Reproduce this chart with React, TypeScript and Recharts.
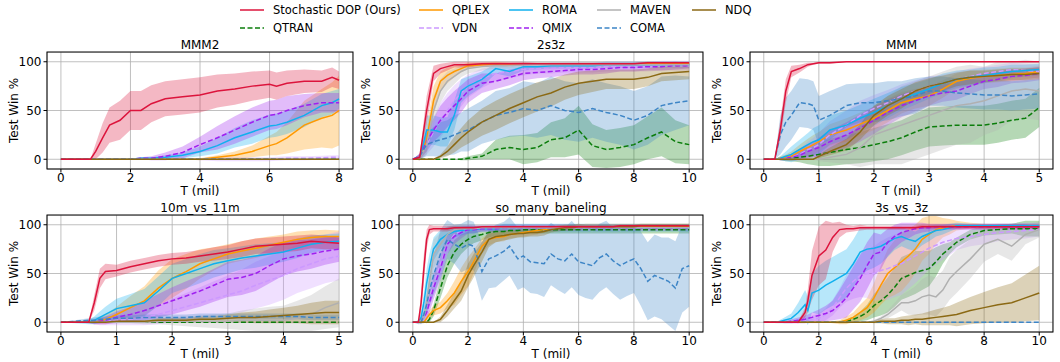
import React from 'react';
import { ComposedChart, Line, Area, XAxis, YAxis, CartesianGrid } from 'recharts';

const FONT = '"DejaVu Sans", Verdana, sans-serif';

// ---- MMM2 (0..8 mil) ----
const MMM2_X = [0, 0.5, 0.85, 1, 1.2, 1.4, 1.7, 2, 2.3, 2.6, 3, 3.5, 4, 4.5, 5, 5.5, 6, 6.2, 6.5, 7, 7.5, 7.8, 8];
const MMM2_DOP = [0, 0, 0, 8, 22, 35, 40, 50, 50, 57, 62, 64, 66, 70, 72, 75, 77, 75, 78, 80, 80, 84, 81];
const MMM2_DOP_SD = [0, 0, 0, 8, 15, 18, 20, 20, 20, 19, 18, 18, 18, 17, 16, 15, 14, 14, 13, 12, 11, 10, 9];
const MMM2_ROMA = [0, 0, 0, 0, 0, 0, 0, 0, 1, 1, 2, 4, 8, 14, 22, 28, 34, 35, 38, 45, 55, 58, 62];
const MMM2_ROMA_SD = [0, 0, 0, 0, 0, 0, 0, 0, 1, 1, 2, 3, 5, 8, 10, 12, 12, 12, 12, 12, 12, 12, 10];
const MMM2_QMIX = [0, 0, 0, 0, 0, 0, 0, 0, 1, 1, 3, 7, 15, 22, 30, 38, 45, 46, 50, 55, 58, 58, 58];
const MMM2_QMIX_SD = [0, 0, 0, 0, 0, 0, 0, 0, 1, 2, 4, 6, 8, 12, 14, 15, 15, 15, 15, 12, 10, 10, 10];
const MMM2_QPLEX = [0, 0, 0, 0, 0, 0, 0, 0, 0, 0, 0, 0, 0, 2, 4, 8, 14, 16, 22, 35, 42, 45, 50];
const MMM2_QPLEX_SD = [0, 0, 0, 0, 0, 0, 0, 0, 0, 0, 0, 0, 1, 2, 4, 6, 10, 12, 16, 25, 30, 34, 36];
const MMM2_VDN = [0, 0, 0, 0, 0, 0, 0, 0, 0, 0, 0, 0, 0, 0, 0, 0, 0, 0.5, 1, 1, 1.5, 2, 2];
const MMM2_VDN_SD = [0, 0, 0, 0, 0, 0, 0, 0, 0, 0, 0, 0, 1, 2, 2, 2, 2, 2, 2, 2, 2, 2, 2];
const MMM2_FLAT = [0, 0, 0, 0, 0, 0, 0, 0, 0, 0, 0, 0, 0, 0, 0, 0, 0, 0, 0, 0, 0, 0, 0];

// ---- 2s3z (0..10 mil) ----
const S2Z3_X = [0, 0.25, 0.5, 0.75, 1, 1.25, 1.5, 1.75, 2, 2.5, 3, 3.5, 4, 4.5, 5, 5.5, 6, 6.5, 7, 7.5, 8, 8.5, 9, 9.5, 10];
const S2Z3_DOP = [0, 2, 50, 88, 93, 95, 97, 97, 97, 98, 98, 98, 98, 98, 98, 98, 98, 98, 98, 98, 98, 99, 99, 99, 99];
const S2Z3_DOP_SD = [0, 3, 15, 8, 5, 4, 3, 3, 3, 2, 2, 2, 2, 1, 1, 1, 1, 1, 1, 1, 1, 1, 1, 1, 1];
const S2Z3_QPLEX = [0, 1, 20, 60, 80, 86, 90, 93, 96, 97, 98, 98, 98, 98, 98, 98, 98, 98, 98, 98, 98, 98, 98, 98, 98];
const S2Z3_QPLEX_SD = [0, 2, 12, 15, 10, 8, 6, 4, 3, 2, 2, 1, 1, 1, 1, 1, 1, 1, 1, 1, 1, 1, 1, 1, 1];
const S2Z3_MAVEN = [0, 1, 15, 50, 70, 80, 85, 90, 93, 95, 96, 96, 97, 97, 97, 97, 97, 97, 97, 97, 97, 97, 97, 97, 97];
const S2Z3_MAVEN_SD = [0, 2, 10, 15, 12, 10, 8, 6, 5, 4, 3, 3, 3, 3, 3, 3, 3, 3, 3, 3, 3, 3, 3, 3, 3];
const S2Z3_ROMA = [0, 0, 30, 30, 28, 28, 45, 70, 75, 82, 93, 90, 95, 95, 96, 96, 96, 96, 97, 97, 97, 97, 97, 97, 97];
const S2Z3_ROMA_SD = [0, 0, 15, 15, 15, 15, 15, 12, 10, 8, 5, 5, 4, 3, 3, 3, 3, 3, 3, 3, 3, 3, 3, 3, 3];
const S2Z3_QMIX = [0, 3, 18, 30, 40, 48, 55, 62, 70, 78, 80, 84, 88, 89, 90, 91, 92, 92, 93, 94, 94, 95, 95, 96, 96];
const S2Z3_QMIX_SD = [0, 3, 10, 12, 15, 15, 15, 14, 12, 10, 8, 8, 7, 6, 6, 5, 5, 5, 5, 4, 4, 4, 4, 4, 3];
const S2Z3_VDN = [0, 2, 15, 28, 40, 50, 60, 68, 75, 83, 88, 90, 92, 93, 93, 94, 94, 94, 95, 95, 95, 95, 96, 96, 96];
const S2Z3_VDN_SD = [0, 3, 10, 15, 18, 18, 16, 14, 12, 10, 8, 7, 6, 5, 5, 5, 5, 5, 5, 5, 5, 5, 5, 5, 5];
const S2Z3_NDQ = [0, 0, 0, 0, 3, 8, 15, 22, 28, 38, 45, 52, 58, 64, 68, 74, 78, 80, 82, 82, 82, 84, 88, 89, 90];
const S2Z3_NDQ_SD = [0, 0, 0, 0, 2, 5, 8, 10, 12, 14, 15, 15, 15, 15, 14, 13, 12, 11, 10, 10, 10, 9, 8, 8, 8];
const S2Z3_COMA = [0, 3, 15, 18, 20, 22, 25, 28, 30, 38, 45, 48, 52, 50, 55, 50, 48, 52, 48, 45, 40, 45, 55, 58, 60];
const S2Z3_COMA_SD = [0, 3, 12, 15, 18, 18, 20, 20, 22, 22, 25, 25, 28, 28, 30, 30, 30, 30, 30, 30, 30, 30, 30, 28, 25];
const S2Z3_QTRAN = [0, 0, 0, 0, 0, 0, 0, 0, 1, 3, 10, 12, 10, 12, 20, 22, 30, 14, 10, 12, 15, 22, 28, 18, 15];
const S2Z3_QTRAN_SD = [0, 0, 0, 0, 0, 0, 0, 1, 2, 3, 10, 12, 15, 15, 18, 20, 25, 22, 20, 20, 20, 22, 25, 22, 20];

// ---- MMM (0..5 mil) ----
const MMM_X = [0, 0.2, 0.3, 0.4, 0.5, 0.65, 0.8, 0.9, 1, 1.2, 1.5, 1.75, 2, 2.25, 2.5, 2.75, 3, 3.25, 3.5, 3.75, 4, 4.25, 4.5, 4.75, 5];
const MMM_DOP = [0, 0, 30, 70, 90, 93, 97, 98, 99, 99, 100, 100, 100, 100, 100, 100, 100, 100, 100, 100, 100, 100, 100, 100, 100];
const MMM_DOP_SD = [0, 0, 10, 12, 6, 4, 2, 1, 1, 1, 0, 0, 0, 0, 0, 0, 0, 0, 0, 0, 0, 0, 0, 0, 0];
const MMM_COMA = [0, 0, 25, 38, 45, 58, 57, 55, 40, 45, 55, 58, 58, 60, 62, 65, 70, 70, 68, 67, 66, 66, 65, 66, 67];
const MMM_COMA_SD = [0, 0, 20, 25, 25, 25, 25, 25, 25, 25, 22, 20, 20, 20, 18, 18, 15, 15, 15, 15, 15, 15, 15, 15, 15];
const MMM_ROMA = [0, 0, 1, 3, 5, 10, 15, 18, 20, 30, 35, 42, 48, 55, 62, 67, 72, 78, 82, 84, 86, 88, 90, 91, 92];
const MMM_ROMA_SD = [0, 0, 2, 5, 8, 10, 12, 14, 15, 15, 15, 14, 14, 13, 12, 11, 10, 10, 9, 8, 8, 7, 7, 6, 6];
const MMM_QPLEX = [0, 0, 1, 2, 3, 8, 12, 15, 18, 25, 30, 36, 42, 50, 58, 62, 65, 72, 80, 83, 85, 86, 87, 88, 90];
const MMM_QPLEX_SD = [0, 0, 2, 3, 5, 7, 9, 10, 10, 11, 12, 12, 12, 12, 11, 10, 10, 9, 8, 8, 7, 7, 7, 6, 6];
const MMM_VDN = [0, 0, 0, 1, 2, 5, 10, 12, 15, 25, 35, 45, 52, 58, 65, 70, 75, 78, 82, 85, 88, 90, 92, 91, 90];
const MMM_VDN_SD = [0, 0, 1, 2, 3, 6, 8, 10, 12, 14, 15, 15, 14, 13, 12, 11, 10, 9, 8, 8, 7, 7, 7, 7, 7];
const MMM_QMIX = [0, 0, 0, 1, 2, 4, 8, 10, 12, 18, 25, 32, 40, 48, 55, 60, 65, 68, 70, 75, 80, 82, 85, 86, 88];
const MMM_QMIX_SD = [0, 0, 1, 2, 3, 5, 7, 8, 10, 12, 13, 14, 14, 13, 12, 11, 10, 9, 9, 8, 8, 8, 7, 7, 7];
const MMM_NDQ = [0, 0, 0, 0, 0, 0, 0, 0, 3, 8, 15, 28, 45, 55, 62, 70, 75, 78, 82, 84, 85, 86, 87, 87, 88];
const MMM_NDQ_SD = [0, 0, 0, 0, 0, 0, 0, 0, 2, 4, 6, 8, 10, 10, 10, 9, 8, 8, 7, 7, 6, 6, 6, 6, 6];
const MMM_MAVEN = [0, 0, 0, 0, 0, 0, 0, 0, 0, 2, 5, 12, 25, 30, 35, 40, 45, 50, 55, 57, 60, 65, 70, 72, 70];
const MMM_MAVEN_SD = [0, 0, 0, 0, 0, 0, 0, 0, 2, 5, 10, 20, 30, 35, 40, 40, 40, 40, 40, 40, 35, 35, 30, 30, 30];
const MMM_QTRAN = [0, 0, 0, 0, 1, 2, 3, 4, 5, 7, 10, 12, 15, 18, 22, 28, 33, 34, 35, 35, 35, 37, 40, 42, 53];
const MMM_QTRAN_SD = [0, 0, 1, 2, 3, 5, 8, 10, 12, 14, 15, 16, 17, 18, 18, 19, 20, 20, 20, 20, 20, 20, 20, 20, 20];

// ---- 10m_vs_11m (0..5 mil) ----
const M10_X = [0, 0.25, 0.5, 0.6, 0.7, 0.8, 1, 1.25, 1.5, 1.75, 2, 2.25, 2.5, 2.75, 3, 3.25, 3.5, 3.75, 4, 4.25, 4.5, 4.75, 5];
const M10_DOP = [0, 0, 0, 20, 45, 52, 53, 57, 60, 63, 65, 66, 68, 70, 72, 75, 78, 79, 80, 81, 83, 82, 81];
const M10_DOP_SD = [0, 0, 0, 8, 10, 8, 6, 6, 6, 6, 6, 6, 6, 7, 7, 8, 8, 8, 8, 8, 7, 7, 6];
const M10_QPLEX = [0, 0, 0, 0, 1, 3, 8, 15, 22, 35, 45, 52, 60, 65, 70, 73, 76, 79, 82, 85, 87, 88, 88];
const M10_QPLEX_SD = [0, 0, 1, 2, 3, 5, 8, 12, 15, 18, 20, 18, 15, 12, 10, 10, 10, 9, 8, 8, 7, 7, 6];
const M10_ROMA = [0, 0, 0, 2, 5, 8, 14, 17, 20, 32, 45, 50, 55, 60, 63, 66, 68, 70, 72, 76, 80, 82, 83];
const M10_ROMA_SD = [0, 1, 2, 4, 6, 8, 10, 12, 14, 15, 15, 15, 15, 14, 13, 12, 12, 11, 10, 10, 9, 8, 8];
const M10_QMIX = [0, 0, 0, 0, 1, 2, 5, 8, 12, 17, 22, 27, 32, 38, 44, 46, 50, 58, 65, 68, 70, 73, 75];
const M10_QMIX_SD = [0, 0, 1, 2, 3, 4, 6, 8, 10, 12, 14, 15, 16, 17, 18, 18, 18, 18, 17, 16, 15, 14, 13];
const M10_VDN = [0, 0, 0, 0, 0, 1, 2, 3, 5, 8, 12, 16, 20, 24, 28, 32, 38, 43, 48, 55, 60, 65, 68];
const M10_VDN_SD = [0, 0, 1, 2, 3, 4, 5, 6, 8, 10, 12, 14, 16, 18, 20, 22, 24, 25, 25, 25, 25, 25, 25];
const M10_COMA = [0, 1, 2, 2, 3, 3, 4, 4, 5, 5, 5, 5, 6, 6, 6, 6, 6, 6, 6, 6, 5, 5, 5];
const M10_COMA_SD = [0, 1, 2, 3, 3, 3, 3, 3, 3, 3, 3, 3, 3, 3, 3, 3, 3, 3, 3, 3, 3, 3, 3];
const M10_NDQ = [0, 0, 0, 0, 0, 0, 1, 1, 1, 2, 2, 2, 3, 3, 4, 5, 5, 6, 7, 8, 9, 10, 10];
const M10_NDQ_SD = [0, 0, 0, 0, 0, 0, 1, 1, 1, 2, 2, 2, 3, 3, 4, 5, 6, 7, 8, 9, 11, 12, 12];
const M10_MAVEN = [0, 0, 0, 0, 0, 0, 0, 0, 0, 1, 1, 1, 1, 1, 1, 2, 2, 2, 2, 4, 8, 15, 20];
const M10_MAVEN_SD = [0, 0, 0, 0, 0, 0, 1, 1, 2, 3, 4, 5, 6, 7, 8, 10, 12, 14, 15, 18, 20, 22, 25];
const M10_FLAT = [0, 0, 0, 0, 0, 0, 0, 0, 0, 0, 0, 0, 0, 0, 0, 0, 0, 0, 0, 0, 0, 0, 0];

// ---- so_many_baneling (0..10 mil) ----
const BANE_X = [0, 0.2, 0.3, 0.4, 0.5, 0.6, 0.75, 1, 1.25, 1.5, 1.75, 2, 2.2, 2.5, 2.75, 3, 3.3, 3.5, 3.8, 4, 4.25, 4.5, 4.75, 5, 5.25, 5.5, 5.75, 6, 6.25, 6.5, 6.75, 7, 7.25, 7.5, 7.75, 8, 8.25, 8.5, 8.75, 9, 9.25, 9.5, 9.75, 10];
const BANE_DOP = [0, 0, 20, 55, 85, 95, 96, 96, 96, 97, 97, 97, 97, 98, 98, 98, 98, 98, 98, 98, 98, 98, 98, 98, 98, 98, 98, 98, 98, 98, 98, 98, 98, 99, 99, 99, 99, 99, 99, 99, 99, 99, 99, 99];
const BANE_DOP_SD = [0, 0, 10, 15, 10, 5, 3, 3, 3, 2, 2, 2, 2, 1, 1, 1, 1, 1, 1, 1, 1, 1, 1, 1, 1, 1, 1, 1, 1, 1, 1, 1, 1, 1, 1, 1, 1, 1, 1, 1, 1, 1, 1, 1];
const BANE_ROMA = [0, 0, 5, 20, 40, 55, 75, 85, 90, 93, 94, 95, 95, 96, 96, 96, 97, 97, 97, 97, 97, 97, 97, 97, 97, 97, 97, 97, 97, 97, 97, 97, 97, 97, 97, 97, 97, 97, 97, 97, 97, 97, 97, 97];
const BANE_ROMA_SD = [0, 2, 5, 10, 15, 15, 12, 10, 8, 6, 5, 4, 4, 3, 3, 3, 4, 4, 4, 4, 4, 4, 4, 4, 4, 4, 4, 4, 4, 4, 4, 4, 4, 4, 4, 4, 4, 4, 4, 4, 4, 4, 4, 4];
const BANE_QMIX = [0, 0, 2, 5, 10, 20, 35, 55, 80, 88, 92, 95, 95, 96, 96, 96, 97, 97, 97, 97, 97, 97, 97, 97, 97, 97, 97, 97, 97, 97, 97, 97, 97, 97, 97, 97, 97, 97, 97, 97, 97, 97, 97, 97];
const BANE_QMIX_SD = [0, 1, 3, 5, 8, 10, 12, 12, 10, 8, 6, 4, 4, 3, 3, 3, 3, 3, 3, 3, 3, 3, 3, 3, 3, 3, 3, 3, 3, 3, 3, 3, 3, 3, 3, 3, 3, 3, 3, 3, 3, 3, 3, 3];
const BANE_VDN = [0, 0, 2, 5, 10, 25, 40, 60, 80, 90, 94, 96, 96, 96, 97, 97, 97, 97, 97, 97, 97, 97, 97, 97, 97, 97, 97, 97, 97, 97, 97, 97, 97, 97, 97, 97, 97, 97, 97, 97, 97, 97, 97, 97];
const BANE_VDN_SD = [0, 1, 3, 5, 8, 10, 12, 12, 10, 8, 5, 4, 3, 3, 3, 3, 3, 3, 3, 3, 3, 3, 3, 3, 3, 3, 3, 3, 3, 3, 3, 3, 3, 3, 3, 3, 3, 3, 3, 3, 3, 3, 3, 3];
const BANE_MAVEN = [0, 0, 2, 5, 20, 40, 70, 80, 90, 95, 96, 96, 96, 97, 97, 97, 97, 97, 97, 97, 97, 97, 97, 97, 97, 97, 97, 97, 97, 97, 97, 97, 97, 97, 97, 97, 97, 97, 97, 97, 97, 97, 97, 97];
const BANE_MAVEN_SD = [0, 2, 4, 6, 10, 15, 15, 12, 8, 5, 4, 3, 3, 3, 3, 3, 3, 3, 3, 3, 3, 3, 3, 3, 3, 3, 3, 3, 3, 3, 3, 3, 3, 3, 3, 3, 3, 3, 3, 3, 3, 3, 3, 3];
const BANE_QTRAN = [0, 0, 0, 0, 0, 3, 12, 35, 58, 72, 80, 85, 88, 90, 92, 93, 93, 94, 94, 95, 95, 95, 95, 95, 95, 95, 95, 95, 95, 95, 95, 95, 95, 95, 95, 95, 95, 95, 95, 95, 95, 95, 95, 95];
const BANE_QTRAN_SD = [0, 0, 0, 0, 1, 3, 6, 10, 12, 12, 10, 8, 7, 6, 5, 4, 4, 4, 4, 4, 4, 4, 4, 4, 4, 4, 4, 4, 4, 4, 4, 4, 4, 4, 4, 4, 4, 4, 4, 4, 4, 4, 4, 4];
const BANE_QPLEX = [0, 0, 0, 0, 4, 8, 12, 15, 22, 30, 42, 52, 62, 78, 85, 87, 88, 90, 91, 92, 93, 94, 95, 96, 97, 97, 97, 97, 98, 98, 98, 98, 98, 98, 98, 98, 98, 98, 98, 98, 98, 98, 98, 98];
const BANE_QPLEX_SD = [0, 0, 0, 1, 3, 4, 5, 6, 8, 12, 14, 15, 12, 8, 6, 5, 5, 4, 4, 4, 4, 4, 3, 3, 3, 3, 3, 3, 3, 3, 3, 3, 3, 3, 3, 3, 3, 3, 3, 3, 3, 3, 3, 3];
const BANE_NDQ = [0, 0, 0, 0, 0, 0, 0, 3, 12, 22, 32, 48, 58, 72, 85, 88, 89, 90, 91, 91, 92, 92, 93, 95, 96, 97, 97, 98, 98, 98, 98, 98, 98, 98, 98, 98, 99, 99, 99, 99, 99, 99, 99, 99];
const BANE_NDQ_SD = [0, 0, 0, 0, 0, 0, 0, 3, 6, 8, 10, 12, 12, 10, 8, 6, 5, 5, 4, 4, 4, 4, 4, 3, 3, 3, 3, 3, 2, 2, 2, 2, 2, 2, 2, 2, 2, 2, 2, 2, 2, 2, 2, 2];
const BANE_COMA = [0, 0, 0, 8, 18, 32, 48, 70, 85, 80, 76, 80, 78, 52, 65, 68, 73, 78, 65, 68, 62, 61, 60, 70, 65, 63, 70, 62, 60, 58, 66, 70, 63, 58, 62, 65, 55, 42, 48, 45, 42, 35, 55, 58];
const BANE_COMA_SD = [0, 0, 2, 5, 10, 15, 20, 25, 20, 20, 25, 25, 25, 30, 30, 32, 30, 30, 32, 32, 32, 32, 34, 32, 32, 34, 34, 34, 35, 35, 35, 34, 34, 35, 35, 35, 38, 40, 42, 42, 45, 48, 45, 42];

// ---- 3s_vs_3z (0..10 mil) ----
const S3_X = [0, 0.5, 0.75, 1, 1.25, 1.5, 1.6, 1.75, 2, 2.25, 2.5, 2.75, 3, 3.25, 3.5, 3.75, 4, 4.25, 4.5, 4.75, 5, 5.25, 5.5, 5.75, 6, 6.25, 6.5, 6.75, 7, 7.5, 8, 8.5, 9, 9.5, 10];
const S3_DOP = [0, 0, 0, 0, 0, 10, 22, 48, 68, 74, 87, 95, 96, 96, 97, 97, 97, 97, 97, 97, 97, 97, 97, 98, 98, 98, 98, 98, 98, 98, 98, 98, 98, 98, 98];
const S3_DOP_SD = [0, 0, 0, 0, 1, 5, 12, 25, 30, 30, 15, 8, 4, 3, 3, 2, 2, 2, 2, 2, 2, 2, 2, 2, 2, 2, 2, 2, 2, 2, 2, 2, 2, 2, 2];
const S3_ROMA = [0, 0, 2, 4, 10, 18, 12, 30, 33, 38, 42, 46, 50, 60, 72, 75, 76, 78, 82, 86, 88, 85, 83, 88, 91, 94, 95, 97, 99, 99, 99, 99, 99, 99, 99];
const S3_ROMA_SD = [0, 1, 3, 5, 10, 15, 15, 20, 25, 25, 25, 25, 25, 25, 25, 22, 20, 18, 15, 12, 10, 10, 10, 9, 8, 6, 5, 4, 3, 2, 2, 2, 2, 2, 2];
const S3_QMIX = [0, 0, 0, 1, 2, 3, 4, 5, 7, 9, 12, 18, 25, 35, 45, 58, 70, 72, 82, 88, 92, 94, 96, 97, 97, 98, 98, 98, 98, 98, 98, 98, 98, 98, 98];
const S3_QMIX_SD = [0, 0, 1, 2, 3, 4, 4, 5, 6, 8, 10, 15, 20, 22, 24, 24, 22, 18, 14, 12, 10, 8, 6, 5, 4, 3, 3, 3, 3, 3, 3, 3, 3, 3, 3];
const S3_VDN = [0, 0, 0, 0, 1, 2, 2, 3, 4, 8, 15, 25, 35, 42, 48, 50, 50, 53, 55, 58, 60, 64, 68, 72, 76, 79, 82, 84, 86, 88, 90, 92, 93, 94, 95];
const S3_VDN_SD = [0, 0, 0, 1, 2, 3, 3, 4, 5, 6, 8, 10, 14, 18, 22, 25, 28, 30, 32, 32, 32, 30, 28, 25, 22, 20, 18, 15, 12, 10, 10, 9, 8, 8, 7];
const S3_QPLEX = [0, 0, 0, 0, 0, 0, 0, 0, 0, 0, 0, 0, 2, 5, 10, 15, 25, 38, 50, 56, 62, 68, 75, 85, 90, 95, 97, 98, 99, 99, 99, 99, 99, 99, 99];
const S3_QPLEX_SD = [0, 0, 0, 0, 0, 0, 0, 0, 0, 0, 1, 2, 4, 5, 8, 10, 15, 20, 25, 28, 30, 28, 25, 22, 20, 15, 10, 8, 5, 3, 2, 2, 2, 2, 2];
const S3_QTRAN = [0, 0, 0, 0, 0, 0, 0, 0, 0, 0, 0, 0, 1, 3, 6, 10, 17, 22, 28, 36, 45, 48, 51, 53, 55, 62, 70, 76, 82, 90, 94, 95, 96, 96, 96];
const S3_QTRAN_SD = [0, 0, 0, 0, 0, 0, 0, 0, 0, 0, 0, 1, 2, 3, 5, 8, 12, 15, 18, 20, 22, 22, 22, 20, 18, 15, 10, 6, 5, 5, 5, 5, 5, 8, 8];
const S3_MAVEN = [0, 0, 0, 0, 0, 0, 0, 0, 0, 0, 0, 0, 0, 0, 0, 0, 1, 4, 8, 14, 20, 20, 22, 26, 28, 26, 33, 45, 52, 65, 80, 85, 78, 90, 95];
const S3_MAVEN_SD = [0, 0, 0, 0, 0, 0, 0, 0, 0, 0, 0, 0, 0, 0, 0, 0, 1, 2, 4, 6, 8, 12, 15, 18, 20, 20, 20, 22, 22, 20, 18, 15, 15, 10, 8];
const S3_NDQ = [0, 0, 0, 0, 0, 0, 0, 0, 0, 0, 0, 0, 0, 0, 0, 0, 0, 1, 1, 1, 2, 2, 3, 3, 4, 5, 6, 7, 8, 12, 15, 18, 20, 25, 30];
const S3_NDQ_SD = [0, 0, 0, 0, 0, 0, 0, 0, 0, 0, 0, 0, 0, 0, 0, 0, 1, 2, 3, 3, 4, 5, 5, 6, 7, 8, 9, 10, 12, 14, 16, 18, 20, 24, 28];
const S3_FLAT = [0, 0, 0, 0, 0, 0, 0, 0, 0, 0, 0, 0, 0, 0, 0, 0, 0, 0, 0, 0, 0, 0, 0, 0, 0, 0, 0, 0, 0, 0, 0, 0, 0, 0, 0];

const TICKS_8 = [0, 2, 4, 6, 8];
const TICKS_5 = [0, 1, 2, 3, 4, 5];
const TICKS_10 = [0, 2, 4, 6, 8, 10];

// series look; drawing order with DOP last (on top)
const SERIES = [
  { key: 'qtran', name: 'QTRAN', color: '#0b7d0b', dash: true },
  { key: 'qplex', name: 'QPLEX', color: '#ff9900', dash: false },
  { key: 'vdn', name: 'VDN', color: '#cc99ff', dash: true },
  { key: 'roma', name: 'ROMA', color: '#10b0ee', dash: false },
  { key: 'qmix', name: 'QMIX', color: '#a020f0', dash: true },
  { key: 'maven', name: 'MAVEN', color: '#b0b0b0', dash: false },
  { key: 'coma', name: 'COMA', color: '#3d85c6', dash: true },
  { key: 'ndq', name: 'NDQ', color: '#8b6914', dash: false },
  { key: 'dop', name: 'Stochastic DOP (Ours)', color: '#dc143c', dash: false },
];
const LEGEND_ORDER = [['dop', 'qtran'], ['qplex', 'vdn'], ['roma', 'qmix'], ['maven', 'coma'], ['ndq']];
const LEGEND_COLS = [240, 419, 509, 597, 692];

type Ser = [string, number[], number[] | null];

const PANELS: { title: string; x: number[]; dom: number[]; ticks: number[]; box: number[]; series: Ser[] }[] = [
  {
    title: 'MMM2', x: MMM2_X, dom: [-0.4, 8.4], ticks: TICKS_8, box: [47, 52, 353, 169],
    series: [['qtran', MMM2_FLAT, null], ['qplex', MMM2_QPLEX, MMM2_QPLEX_SD], ['vdn', MMM2_VDN, MMM2_VDN_SD],
      ['roma', MMM2_ROMA, MMM2_ROMA_SD], ['qmix', MMM2_QMIX, MMM2_QMIX_SD], ['maven', MMM2_FLAT, null],
      ['coma', MMM2_FLAT, null], ['ndq', MMM2_FLAT, null], ['dop', MMM2_DOP, MMM2_DOP_SD]],
  },
  {
    title: '2s3z', x: S2Z3_X, dom: [-0.5, 10.5], ticks: TICKS_10, box: [399, 52, 703, 169],
    series: [['qtran', S2Z3_QTRAN, S2Z3_QTRAN_SD], ['qplex', S2Z3_QPLEX, S2Z3_QPLEX_SD], ['vdn', S2Z3_VDN, S2Z3_VDN_SD],
      ['roma', S2Z3_ROMA, S2Z3_ROMA_SD], ['qmix', S2Z3_QMIX, S2Z3_QMIX_SD], ['maven', S2Z3_MAVEN, S2Z3_MAVEN_SD],
      ['coma', S2Z3_COMA, S2Z3_COMA_SD], ['ndq', S2Z3_NDQ, S2Z3_NDQ_SD], ['dop', S2Z3_DOP, S2Z3_DOP_SD]],
  },
  {
    title: 'MMM', x: MMM_X, dom: [-0.25, 5.25], ticks: TICKS_5, box: [750, 52, 1053, 169],
    series: [['qtran', MMM_QTRAN, MMM_QTRAN_SD], ['qplex', MMM_QPLEX, MMM_QPLEX_SD], ['vdn', MMM_VDN, MMM_VDN_SD],
      ['roma', MMM_ROMA, MMM_ROMA_SD], ['qmix', MMM_QMIX, MMM_QMIX_SD], ['maven', MMM_MAVEN, MMM_MAVEN_SD],
      ['coma', MMM_COMA, MMM_COMA_SD], ['ndq', MMM_NDQ, MMM_NDQ_SD], ['dop', MMM_DOP, MMM_DOP_SD]],
  },
  {
    title: '10m_vs_11m', x: M10_X, dom: [-0.25, 5.25], ticks: TICKS_5, box: [47, 215, 353, 332],
    series: [['qtran', M10_FLAT, null], ['qplex', M10_QPLEX, M10_QPLEX_SD], ['vdn', M10_VDN, M10_VDN_SD],
      ['roma', M10_ROMA, M10_ROMA_SD], ['qmix', M10_QMIX, M10_QMIX_SD], ['maven', M10_MAVEN, M10_MAVEN_SD],
      ['coma', M10_COMA, M10_COMA_SD], ['ndq', M10_NDQ, M10_NDQ_SD], ['dop', M10_DOP, M10_DOP_SD]],
  },
  {
    title: 'so_many_baneling', x: BANE_X, dom: [-0.5, 10.5], ticks: TICKS_10, box: [399, 215, 703, 332],
    series: [['qtran', BANE_QTRAN, BANE_QTRAN_SD], ['qplex', BANE_QPLEX, BANE_QPLEX_SD], ['vdn', BANE_VDN, BANE_VDN_SD],
      ['roma', BANE_ROMA, BANE_ROMA_SD], ['qmix', BANE_QMIX, BANE_QMIX_SD], ['maven', BANE_MAVEN, BANE_MAVEN_SD],
      ['coma', BANE_COMA, BANE_COMA_SD], ['ndq', BANE_NDQ, BANE_NDQ_SD], ['dop', BANE_DOP, BANE_DOP_SD]],
  },
  {
    title: '3s_vs_3z', x: S3_X, dom: [-0.5, 10.5], ticks: TICKS_10, box: [750, 215, 1053, 332],
    series: [['qtran', S3_QTRAN, S3_QTRAN_SD], ['qplex', S3_QPLEX, S3_QPLEX_SD], ['vdn', S3_VDN, S3_VDN_SD],
      ['roma', S3_ROMA, S3_ROMA_SD], ['qmix', S3_QMIX, S3_QMIX_SD], ['maven', S3_MAVEN, S3_MAVEN_SD],
      ['coma', S3_FLAT, null], ['ndq', S3_NDQ, S3_NDQ_SD], ['dop', S3_DOP, S3_DOP_SD]],
  },
];

const YW = 40; // y-axis strip width
const XH = 20; // x-axis strip height
const look = (k: string) => SERIES.find((s) => s.key === k)!;

function buildRows(x: number[], series: Ser[]) {
  return x.map((xv, i) => {
    const row: any = { x: xv };
    series.forEach(([k, m, sd]) => {
      row[k] = m[i];
      if (sd) row[k + 'Band'] = [Math.max(-9, m[i] - sd[i]), Math.min(109, m[i] + sd[i])];
    });
    return row;
  });
}

const Panel = ({ p }: { p: (typeof PANELS)[number] }) => {
  const [x0, y0, x1, y1] = p.box;
  const rows = buildRows(p.x, p.series);
  const tick = { fontSize: 12, fill: '#000', fontFamily: FONT };
  return (
    <div style={{ position: 'absolute', left: x0 - YW, top: y0 }}>
      <ComposedChart width={x1 - x0 + YW} height={y1 - y0 + XH} data={rows} margin={{ top: 0, right: 0, bottom: 0, left: 0 }}>
        <CartesianGrid stroke="#b0b0b0" strokeWidth={0.8} />
        <XAxis type="number" dataKey="x" domain={p.dom} ticks={p.ticks} interval={0} allowDataOverflow
          height={XH} axisLine={false} tickLine={{ stroke: '#000' }} tickSize={3.5} tickMargin={1} tick={tick} />
        <YAxis type="number" domain={[-10, 110]} ticks={[0, 50, 100]} interval={0} allowDataOverflow
          width={YW} axisLine={false} tickLine={{ stroke: '#000' }} tickSize={3.5} tickMargin={2} tick={tick} />
        {p.series.filter((s) => s[2]).map(([k]) => (
          <Area key={k + 'b'} dataKey={k + 'Band'} type="linear" stroke="none" fill={look(k).color}
            fillOpacity={0.3} isAnimationActive={false} activeDot={false} />
        ))}
        {p.series.map(([k]) => (
          <Line key={k} dataKey={k} type="linear" stroke={look(k).color} strokeWidth={1.5}
            strokeDasharray={look(k).dash ? '5 2.5' : undefined} dot={false} activeDot={false} isAnimationActive={false} />
        ))}
      </ComposedChart>
    </div>
  );
};

export default function App() {
  return (
    <div style={{ position: 'absolute', left: 0, top: 0, width: 1060, height: 362, background: '#fff', fontFamily: FONT }}>
      {PANELS.map((p) => <Panel key={p.title} p={p} />)}
      <svg width={1060} height={362} style={{ position: 'absolute', left: 0, top: 0, pointerEvents: 'none' }}>
        {PANELS.map((p) => {
          const [x0, y0, x1, y1] = p.box;
          const cx = (x0 + x1) / 2;
          const cy = (y0 + y1) / 2;
          return (
            <g key={p.title} fontFamily={FONT} fontSize={12} fill="#000">
              <rect x={x0} y={y0} width={x1 - x0} height={y1 - y0} fill="none" stroke="#000" strokeWidth={1} />
              <text x={cx} y={y0 - 3} textAnchor="middle">{p.title}</text>
              <text x={cx} y={y1 + 21.5} textAnchor="middle" dominantBaseline="central">T (mil)</text>
              <text x={x0 - 33} y={cy} textAnchor="middle" dominantBaseline="central"
                transform={`rotate(-90 ${x0 - 33} ${cy})`}>Test Win %</text>
            </g>
          );
        })}
        {LEGEND_ORDER.map((col, ci) => col.map((k, ri) => {
          const s = look(k);
          const lx = LEGEND_COLS[ci];
          const ly = ri === 0 ? 10 : 28;
          return (
            <g key={k}>
              <line x1={lx} x2={lx + 24} y1={ly} y2={ly} stroke={s.color} strokeWidth={1.5}
                strokeDasharray={s.dash ? '5 2.5' : undefined} />
              <text x={lx + 33} y={ly} dominantBaseline="central" fontFamily={FONT} fontSize={11.5} fill="#000">{s.name}</text>
            </g>
          );
        }))}
      </svg>
    </div>
  );
}
